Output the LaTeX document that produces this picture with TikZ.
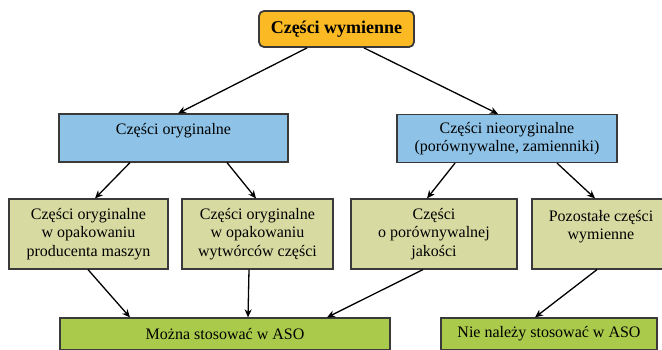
\documentclass[tikz,border=0pt]{standalone}
\usepackage{fontspec}
\setmainfont{Liberation Serif}
\usepackage{xcolor}
\usepackage{tikz}
\usetikzlibrary{arrows.meta}

\definecolor{topfill}{HTML}{FBBA24}
\definecolor{kindfill}{HTML}{8EC3E7}
\definecolor{partfill}{HTML}{D7DBA2}
\definecolor{usefill}{HTML}{AACA4B}
\definecolor{edge}{HTML}{3A3A3A}

\begin{document}
\begin{tikzpicture}[x=1pt,y=-1pt,>={Stealth[length=8pt,width=7pt]},
  every node/.style={font=\fontsize{16}{18.5}\selectfont,align=center,inner sep=0pt},
  topbox/.style={draw=edge,line width=1.8pt,rounded corners=5pt,fill=topfill,
                 minimum width=155pt,minimum height=36pt,font=\fontsize{18}{20}\selectfont\bfseries},
  kindbox/.style={draw=edge,line width=1.2pt,fill=kindfill,minimum height=48pt},
  partbox/.style={draw=edge,line width=1.2pt,fill=partfill,minimum height=70pt},
  usebox/.style={draw=edge,line width=1.2pt,fill=usefill,minimum height=32pt},
  link/.style={->,line width=1.3pt}]
\clip (0,0) rectangle (662,349);
\fill[white] (0,0) rectangle (662,349);

% top
\node[topbox] (spare) at (336.5,29) {Części wymienne};

% second row
\node[kindbox,minimum width=229pt] (orig) at (173.5,138) {Części oryginalne\\\mbox{}};
\node[kindbox,minimum width=220pt] (nonorig) at (507,138.5) {Części nieoryginalne\\(porównywalne, zamienniki)};

% third row
\node[partbox,minimum width=159pt] (p1) at (88.5,234) {Części oryginalne\\w opakowaniu\\producenta maszyn};
\node[partbox,minimum width=151pt] (p2) at (257.5,234) {Części oryginalne\\w opakowaniu\\wytwórców części};
\node[partbox,minimum width=166pt] (p3) at (434,234) {Części\\o porównywalnej\\jakości};
\node[partbox,minimum width=138pt] (p4) at (601,234) {Pozostałe części\\wymienne\\\mbox{}};

% bottom
\node[usebox,minimum width=330pt] (ok) at (225,334) {Można stosować w ASO};
\node[usebox,minimum width=216pt] (notok) at (549,334) {Nie należy stosować w ASO};

\foreach \a/\sa/\b/\sb in {spare/-29.5/orig/4.5, spare/27.5/nonorig/-9,
                           orig/-43.5/p1/6.5, orig/53.5/p2/-1.5,
                           nonorig/-52/p3/-7, nonorig/50/p4/-6,
                           p1/-0.5/ok/-95, p2/-8.5/ok/23, p3/-11/ok/102,
                           p4/-4/notok/-14}
  \draw[link] ([xshift=\sa pt]\a.south) -- ([xshift=\sb pt]\b.north);
\end{tikzpicture}
\end{document}
